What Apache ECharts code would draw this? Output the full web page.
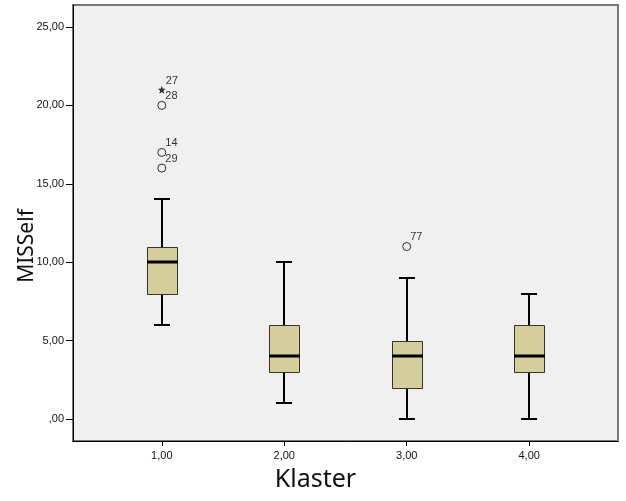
<!DOCTYPE html>
<html>
<head>
<meta charset="utf-8">
<script src="https://cdn.jsdelivr.net/npm/echarts@6/dist/echarts.min.js"></script>
<style>
html,body{margin:0;padding:0;background:#fff;}
#chart{width:626px;height:501px;}
</style>
</head>
<body>
<div id="chart"></div>
<script>
// ---- data ----
const categories = ['1,00', '2,00', '3,00', '4,00'];
const clusterX = [1, 2, 3, 4];
const mins    = [6, 1, 0, 0];
const q1s     = [8, 3, 2, 3];
const medians = [10, 4, 4, 4];
const q3s     = [11, 6, 5, 6];
const maxs    = [14, 10, 9, 8];
const outlierX   = [1, 1, 1, 3];
const outlierY   = [16, 17, 20, 11];
const outlierIds = ['29', '14', '28', '77'];
const extremeX   = [1];
const extremeY   = [21];
const extremeIds = ['27'];
const yTicks = [0, 5, 10, 15, 20, 25];

const boxData = clusterX.map((x, i) => [x, mins[i], q1s[i], medians[i], q3s[i], maxs[i]]);
const outData = outlierX.map((x, i) => ({ value: [x, outlierY[i]], id: outlierIds[i] }));
const extData = extremeX.map((x, i) => ({ value: [x, extremeY[i]], id: extremeIds[i] }));

function fmtNum(v) {
  const s = v.toFixed(2).replace('.', ',');
  return v === 0 ? ',00' : s;
}

function renderBox(params, api) {
  const x = api.value(0);
  const pMin = api.coord([x, api.value(1)]);
  const pQ1 = api.coord([x, api.value(2)]);
  const pMed = api.coord([x, api.value(3)]);
  const pQ3 = api.coord([x, api.value(4)]);
  const pMax = api.coord([x, api.value(5)]);
  const cx = Math.round(pMin[0]);
  const bw = 30, cw = 16;
  const yMin = Math.round(pMin[1]), yQ1 = Math.round(pQ1[1]), yMed = Math.round(pMed[1]);
  const yQ3 = Math.round(pQ3[1]), yMax = Math.round(pMax[1]);
  const lineStyle = { stroke: '#000', lineWidth: 2 };
  return {
    type: 'group',
    children: [
      { type: 'line', shape: { x1: cx, y1: yMax, x2: cx, y2: yQ3 }, style: lineStyle },
      { type: 'line', shape: { x1: cx, y1: yQ1, x2: cx, y2: yMin }, style: lineStyle },
      { type: 'line', shape: { x1: cx - cw / 2, y1: yMax, x2: cx + cw / 2, y2: yMax }, style: lineStyle },
      { type: 'line', shape: { x1: cx - cw / 2, y1: yMin, x2: cx + cw / 2, y2: yMin }, style: lineStyle },
      { type: 'rect', shape: { x: cx - bw / 2 + 0.5, y: yQ3 + 0.5, width: bw, height: yQ1 - yQ3 },
        style: { fill: '#d3ce9c', stroke: '#36342a', lineWidth: 1 } },
      { type: 'line', shape: { x1: cx - bw / 2, y1: yMed, x2: cx + bw / 2 + 1, y2: yMed },
        style: { stroke: '#000', lineWidth: 3 } }
    ]
  };
}

const labelCfg = {
  show: true,
  formatter: p => p.data.id,
  position: [8, -5],
  align: 'left',
  verticalAlign: 'middle',
  fontFamily: 'Liberation Sans, Arial, sans-serif',
  fontSize: 11,
  color: '#000'
};

const chart = echarts.init(document.getElementById('chart'), null, { renderer: 'canvas' });
chart.setOption({
  animation: false,
  backgroundColor: '#fff',
  grid: {
    left: 73, right: 8, top: 5, bottom: 60,
    outerBoundsMode: 'none',
    containLabel: false,
    show: true, backgroundColor: '#f0f0f0', borderColor: '#777', borderWidth: 2
  },
  xAxis: {
    type: 'value',
    min: 0.275, max: 4.725,
    name: 'Klaster',
    nameLocation: 'middle',
    nameGap: 26,
    nameMoveOverlap: false,
    nameTextStyle: { fontFamily: 'Noto Sans, Open Sans, sans-serif', fontSize: 25, color: '#111', padding: [0, 60, 0, 0] },
    axisLine: { show: true, onZero: false, lineStyle: { color: '#000', width: 1 } },
    axisTick: { show: true, length: 5, lineStyle: { color: '#000' }, customValues: clusterX },
    axisLabel: {
      customValues: clusterX,
      formatter: v => categories[clusterX.indexOf(v)] || '',
      fontFamily: 'Liberation Sans, Arial, sans-serif', fontSize: 11, color: '#111', margin: 9
    },
    splitLine: { show: false }
  },
  yAxis: {
    type: 'value',
    min: -1.4, max: 26.4,
    name: 'MISSelf',
    nameLocation: 'middle',
    nameGap: 35,
    nameMoveOverlap: false,
    nameRotate: 90,
    nameTextStyle: { fontFamily: 'Noto Sans, Open Sans, sans-serif', fontSize: 21, color: '#111', padding: [0, 46, 0, 0] },
    axisLine: { show: true, onZero: false, lineStyle: { color: '#000', width: 1 } },
    axisTick: { show: true, length: 7, lineStyle: { color: '#000' }, customValues: yTicks },
    axisLabel: {
      customValues: yTicks,
      formatter: v => fmtNum(v),
      fontFamily: 'Liberation Sans, Arial, sans-serif', fontSize: 11, color: '#111', margin: 9
    },
    splitLine: { show: false }
  },
  series: [
    {
      type: 'custom',
      renderItem: renderBox,
      data: boxData,
      encode: { x: 0, y: [1, 2, 3, 4, 5] },
      z: 3
    },
    {
      type: 'scatter',
      data: outData,
      symbol: 'circle',
      symbolSize: 8,
      itemStyle: { color: 'rgba(0,0,0,0)', borderColor: '#000', borderWidth: 1 },
      label: labelCfg,
      z: 4
    },
    {
      type: 'scatter',
      data: extData,
      symbol: 'path://M0,-10 L2.35,-3.24 L9.51,-3.09 L3.8,1.24 L5.88,8.09 L0,4 L-5.88,8.09 L-3.8,1.24 L-9.51,-3.09 L-2.35,-3.24 Z',
      symbolSize: 8,
      itemStyle: { color: '#000' },
      label: labelCfg,
      z: 4
    }
  ]
});
</script>
</body>
</html>
